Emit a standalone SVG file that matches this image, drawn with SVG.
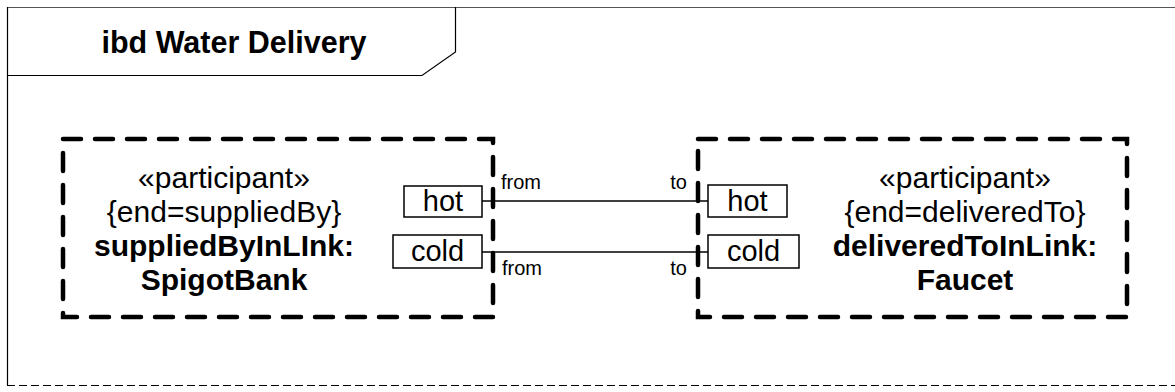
<svg xmlns="http://www.w3.org/2000/svg" width="1175" height="392" viewBox="0 0 1175 392">
  <style>
    .frame { fill: none; stroke: #000; stroke-width: 1.2; }
    .part { fill: none; stroke: #000; stroke-width: 4.5; stroke-dasharray: 18 14; stroke-linecap: round; }
    .port { fill: #fff; stroke: #000; stroke-width: 1.5; }
    .conn { fill: none; stroke: #000; stroke-width: 1.6; }
    .t { font-family: "Liberation Sans", Arial, sans-serif; fill: #000; }
    .n { font-size: 30px; text-anchor: middle; }
    .b { font-weight: bold; }
    .pt { font-size: 29px; text-anchor: middle; }
    .lbl { font-size: 20px; }
  </style>
  <rect width="1175" height="392" fill="#fff"/>
  <g id="frame">
    <line class="frame" x1="7" y1="7.5" x2="1175" y2="7.5" stroke-width="2" style="stroke:#555"/>
    <line class="frame" x1="7.5" y1="7" x2="7.5" y2="385"/>
    <line class="frame" x1="7" y1="385.5" x2="1175" y2="385.5" stroke-dasharray="8 4"/>
    <polyline class="frame" points="7,75.5 422,75.5 455.5,52 455.5,7"/>
    <text class="t b" x="234" y="53" font-size="30.5" text-anchor="middle">ibd Water Delivery</text>
  </g>
  <g id="supplier">
    <rect class="part" x="63" y="139" width="430" height="178"/>
    <text class="t n" x="224" y="188">«participant»</text>
    <text class="t n" x="224" y="222">{end=suppliedBy}</text>
    <text class="t n b" x="224" y="256">suppliedByInLInk:</text>
    <text class="t n b" x="224" y="290">SpigotBank</text>
  </g>
  <g id="supplier-hot">
    <rect class="port" x="404" y="186" width="78" height="31"/>
    <text class="t pt" x="443" y="211">hot</text>
  </g>
  <g id="supplier-cold">
    <rect class="port" x="393" y="235" width="89" height="33"/>
    <text class="t pt" x="437.5" y="261">cold</text>
  </g>
  <g id="deliverer">
    <rect class="part" x="698" y="139" width="429" height="178"/>
    <text class="t n" x="965" y="188">«participant»</text>
    <text class="t n" x="965" y="222">{end=deliveredTo}</text>
    <text class="t n b" x="965" y="256">deliveredToInLink:</text>
    <text class="t n b" x="965" y="290">Faucet</text>
  </g>
  <g id="deliverer-hot">
    <rect class="port" x="708" y="185" width="79" height="32"/>
    <text class="t pt" x="747.5" y="211">hot</text>
  </g>
  <g id="deliverer-cold">
    <rect class="port" x="708" y="235" width="91" height="33"/>
    <text class="t pt" x="753.5" y="261">cold</text>
  </g>
  <g id="connectors">
    <line class="conn" x1="482" y1="201" x2="708" y2="201"/>
    <line class="conn" x1="482" y1="252" x2="708" y2="252"/>
    <text class="t lbl" x="501" y="189">from</text>
    <text class="t lbl" x="687" y="189" text-anchor="end">to</text>
    <text class="t lbl" x="502" y="275">from</text>
    <text class="t lbl" x="687" y="275" text-anchor="end">to</text>
  </g>
</svg>
